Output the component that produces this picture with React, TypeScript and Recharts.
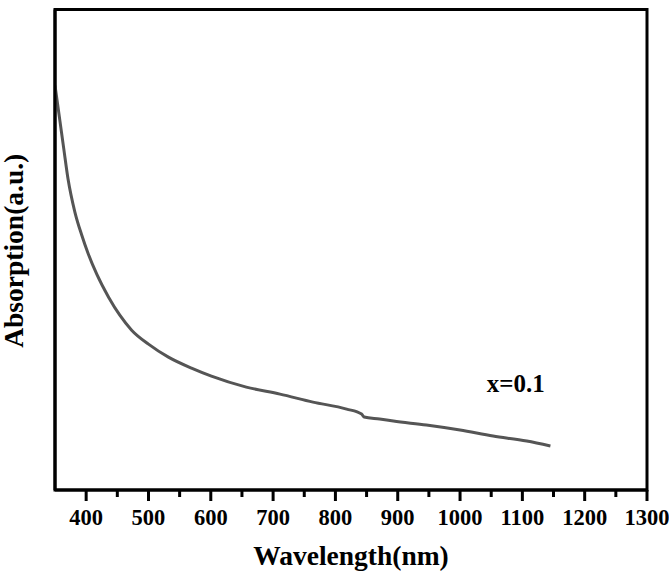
import React from 'react';
import { LineChart, Line, XAxis, YAxis, Label, ReferenceDot, ReferenceArea } from 'recharts';

const wavelength = [350, 358, 364, 371, 382, 393, 403, 417, 436, 454, 473, 500, 532, 569, 601, 657, 711, 764, 818, 842, 846, 871, 893, 946, 1000, 1053, 1107, 1145];
const absorption = [4.05, 3.69, 3.42, 3.11, 2.78, 2.55, 2.37, 2.16, 1.93, 1.75, 1.6, 1.46, 1.33, 1.22, 1.14, 1.03, 0.96, 0.88, 0.81, 0.76, 0.73, 0.71, 0.69, 0.65, 0.6, 0.54, 0.49, 0.44];
const xTicks = [400, 450, 500, 550, 600, 650, 700, 750, 800, 850, 900, 950, 1000, 1050, 1100, 1150, 1200, 1250, 1300];
const majorTicks = [400, 500, 600, 700, 800, 900, 1000, 1100, 1200, 1300];
const xDomain = [350, 1300];
const yDomain = [0, 4.81];
const annotationText = 'x=0.1';
const annotationX = 1043;
const annotationY = 0.98;
const xTitle = 'Wavelength(nm)';
const yTitle = 'Absorption(a.u.)';

const data = wavelength.map((w, i) => ({ w, a: absorption[i] }));

const FONT = '"Liberation Serif", "Times New Roman", serif';

const XTick = (props: any) => {
  const { x, y, payload } = props;
  const major = majorTicks.includes(payload.value);
  return (
    <g>
      <line x1={x} y1={y} x2={x} y2={y + (major ? 11 : 7)} stroke="#000" strokeWidth={3} />
      {major && (
        <text x={x} y={y + 35} textAnchor="middle" fontFamily={FONT} fontWeight="bold" fontSize={22.5} fill="#000">
          {payload.value}
        </text>
      )}
    </g>
  );
};

export default function App() {
  return (
    <div style={{ position: 'absolute', left: 0, top: 0, width: 669, height: 576, background: '#fff' }}>
      <LineChart width={669} height={576} data={data} margin={{ top: 9.5, right: 22, bottom: 0, left: 0 }}>
        <ReferenceArea
          x1={xDomain[0]}
          x2={xDomain[1]}
          y1={yDomain[0]}
          y2={yDomain[1]}
          fill="none"
          fillOpacity={0}
          stroke="#000"
          strokeWidth={3}
        />
        <XAxis
          dataKey="w"
          type="number"
          domain={xDomain}
          ticks={xTicks}
          interval={0}
          allowDataOverflow
          height={86}
          tickSize={0}
          tickMargin={0}
          tickLine={false}
          tick={<XTick />}
          axisLine={{ stroke: '#000', strokeWidth: 3 }}
        >
          <Label
            content={(p: any) => {
              const vb = p.viewBox || { x: 55, y: 490, width: 592 };
              return (
                <text x={vb.x + vb.width / 2} y={vb.y + 75} textAnchor="middle" fontFamily={FONT} fontWeight="bold" fontSize={27.5} fill="#000">
                  {xTitle}
                </text>
              );
            }}
          />
        </XAxis>
        <YAxis
          type="number"
          domain={yDomain}
          allowDataOverflow
          width={55}
          tick={false}
          tickLine={false}
          axisLine={{ stroke: '#000', strokeWidth: 3 }}
        >
          <Label
            content={(p: any) => {
              const vb = p.viewBox || { x: 0, y: 9.5, width: 55, height: 480 };
              const cx = vb.x + 23;
              const cy = vb.y + vb.height / 2 + 1;
              return (
                <text x={cx} y={cy} transform={`rotate(-90, ${cx}, ${cy})`} textAnchor="middle" fontFamily={FONT} fontWeight="bold" fontSize={27.5} fill="#000">
                  {yTitle}
                </text>
              );
            }}
          />
        </YAxis>
        <Line
          type="monotone"
          dataKey="a"
          stroke="#555"
          strokeWidth={3}
          dot={false}
          isAnimationActive={false}
        />
        <ReferenceDot x={annotationX} y={annotationY} r={0} stroke="none" fill="none">
          <Label
            content={(p: any) => {
              const vb = p.viewBox || {};
              const x = vb.cx !== undefined ? vb.cx : vb.x;
              const y = vb.cy !== undefined ? vb.cy : vb.y;
              return (
                <text x={x} y={y} textAnchor="start" fontFamily={FONT} fontWeight="bold" fontSize={25} fill="#000">
                  {annotationText}
                </text>
              );
            }}
          />
        </ReferenceDot>
      </LineChart>
    </div>
  );
}
